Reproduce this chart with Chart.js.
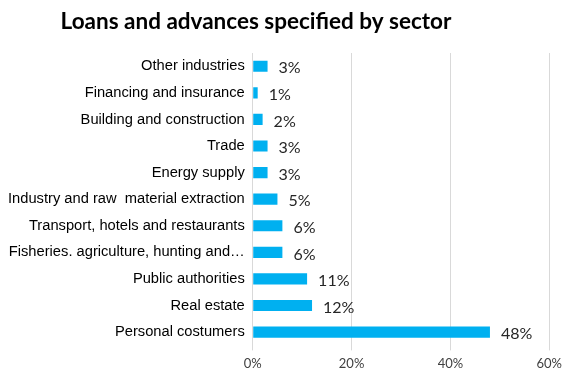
<!DOCTYPE html>
<html>
<head>
<meta charset="utf-8">
<script src="https://cdn.jsdelivr.net/npm/chart.js@4/dist/chart.umd.min.js"></script>
<style>
  html, body { margin: 0; padding: 0; background: #fff; }
  #wrap { width: 568px; height: 369px; position: relative; }
</style>
</head>
<body>
<div id="wrap"><canvas id="chartSectors"></canvas></div>
<script>
const chartTitle = 'Loans and advances specified by sector';
const sectors = [
  'Other industries',
  'Financing and insurance',
  'Building and construction',
  'Trade',
  'Energy supply',
  'Industry and raw  material extraction',
  'Transport, hotels and restaurants',
  'Fisheries. agriculture, hunting and\u2026',
  'Public authorities',
  'Real estate',
  'Personal costumers'
];
const shares = [3, 1, 2, 3, 3, 5, 6, 6, 11, 12, 48];
const axisTicks = [0, 20, 40, 60];

// title drawn above the plot, slightly left of centre
const titlePlugin = {
  id: 'sectorTitle',
  afterDraw(chart) {
    const ctx = chart.ctx;
    ctx.save();
    ctx.font = 'bold 22.5px Lato';
    ctx.fillStyle = '#000';
    ctx.textAlign = 'center';
    ctx.textBaseline = 'middle';
    ctx.fillText(chartTitle, 256, 22);
    ctx.restore();
  }
};

// percentage next to the end of each bar
const valueLabels = {
  id: 'valueLabels',
  afterDatasetsDraw(chart) {
    const ctx = chart.ctx;
    const meta = chart.getDatasetMeta(0);
    ctx.save();
    ctx.font = '16px Lato';
    ctx.fillStyle = '#262626';
    ctx.textAlign = 'left';
    ctx.textBaseline = 'middle';
    meta.data.forEach((bar, i) => {
      ctx.fillText(shares[i] + '%', bar.x + 11, bar.y + 2);
    });
    ctx.restore();
  }
};

const ctx = document.getElementById('chartSectors').getContext('2d');
new Chart(ctx, {
  type: 'bar',
  data: {
    labels: sectors,
    datasets: [{
      data: shares,
      backgroundColor: '#00b0f0',
      borderWidth: 0,
      barPercentage: 0.42,
      categoryPercentage: 1
    }]
  },
  options: {
    indexAxis: 'y',
    responsive: true,
    maintainAspectRatio: false,
    animation: false,
    layout: { padding: { top: 53, left: 0, right: 13, bottom: -9 } },
    plugins: { legend: { display: false }, tooltip: { enabled: false }, title: { display: false } },
    scales: {
      x: {
        min: axisTicks[0],
        max: axisTicks[axisTicks.length - 1],
        afterBuildTicks(scale) { scale.ticks = axisTicks.map(v => ({ value: v })); },
        grid: { color: '#d9d9d9', lineWidth: 1, tickLength: 5, drawTicks: true },
        border: { display: false },
        ticks: {
          callback: v => v + '%',
          color: '#404040',
          font: { family: 'Lato', size: 13 },
          padding: 6
        }
      },
      y: {
        grid: { display: false, tickLength: 0 },
        border: { display: true, color: '#d9d9d9' },
        ticks: {
          color: '#000',
          font: { family: 'Liberation Sans', size: 14.7 },
          padding: 8,
          autoSkip: false
        }
      }
    }
  },
  plugins: [titlePlugin, valueLabels]
});
</script>
</body>
</html>
